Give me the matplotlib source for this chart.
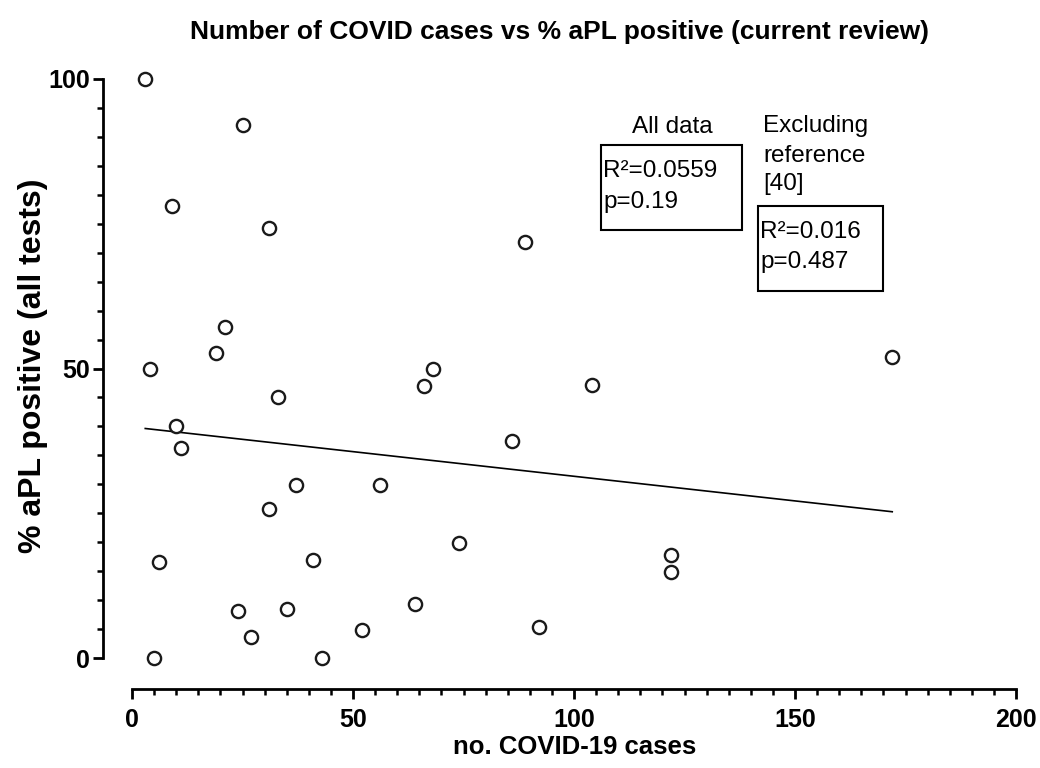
import matplotlib
matplotlib.use("Agg")
import matplotlib.pyplot as plt
import numpy as np
from matplotlib import font_manager
from matplotlib.patches import Rectangle
from matplotlib.ticker import MultipleLocator

plt.rcParams['font.family'] = ['Liberation Sans', 'DejaVu Sans']

# COVID-19 case counts and % aPL positive, one point per study
cases = [3, 25, 9, 31, 21, 19, 4, 33, 10, 11, 37, 31, 6, 41, 24, 35, 27, 5,
         43, 68, 66, 104, 86, 56, 74, 122, 122, 64, 52, 92, 172, 89]
apl_pct = [100, 92.1, 78.1, 74.2, 57.1, 52.6, 49.9, 45.0, 40.0, 36.3, 29.9,
           25.7, 16.6, 16.9, 8.1, 8.5, 3.6, 0, 0, 50.0, 46.9, 47.1, 37.5,
           29.9, 19.9, 17.8, 14.9, 9.3, 4.9, 5.4, 51.9, 71.9]

# condensed face for the headings if there is one
try:
    font_manager.findfont(font_manager.FontProperties(family='Liberation Sans Narrow'),
                          fallback_to_default=False)
    head_family, head_scale = ['Liberation Sans Narrow', 'Liberation Sans'], 1 / 0.82
except ValueError:
    head_family, head_scale = ['Liberation Sans'], 1.0

W, H = 1040, 768
fig = plt.figure(figsize=(W / 100, H / 100), dpi=100)
ax = fig.add_axes([132 / W, 1 - 658 / H, 884 / W, 579 / H])

x = np.array(cases, dtype=float)
y = np.array(apl_pct, dtype=float)
slope, intercept = np.polyfit(x, y, 1)
xfit = np.array([x.min(), x.max()])
ax.plot(xfit, slope * xfit + intercept, color='black', lw=1.2, clip_on=False)

ax.plot(x, y, 'o', ms=9.5, mfc='white', mec='#1a1a1a', mew=1.7,
        clip_on=False, zorder=3)

ax.set_xlim(0, 200)
ax.set_ylim(0, 100)
ax.xaxis.set_major_locator(MultipleLocator(50))
ax.xaxis.set_minor_locator(MultipleLocator(5))
ax.yaxis.set_major_locator(MultipleLocator(50))
ax.yaxis.set_minor_locator(MultipleLocator(5))

for side in ('top', 'right'):
    ax.spines[side].set_visible(False)
ax.spines['left'].set_position(('outward', 21))
ax.spines['bottom'].set_position(('outward', 22))
for side in ('left', 'bottom'):
    ax.spines[side].set_linewidth(2.0)

ax.tick_params(which='major', length=7, width=2.0, color='black')
ax.tick_params(which='minor', length=4.5, width=1.8, color='black')
ax.tick_params(axis='x', which='major', pad=7)
ax.tick_params(axis='y', which='major', pad=2.5)
for lab in ax.get_xticklabels() + ax.get_yticklabels():
    lab.set_fontsize(18)
    lab.set_fontweight('bold')

fig.text(560 / W, 1 - 32 / H,
         'Number of COVID cases vs % aPL positive (current review)',
         ha='center', va='center', fontsize=19 * head_scale,
         fontweight='bold', family=head_family)
fig.text(575 / W, 1 - 747 / H, 'no. COVID-19 cases',
         ha='center', va='center', fontsize=18.5 * head_scale,
         fontweight='bold', family=head_family)
fig.text(33 / W, 1 - 366 / H, '% aPL positive (all tests)',
         ha='center', va='center', rotation=90, fontsize=23 * head_scale,
         fontweight='bold', family=head_family)

# regression summary boxes
def fig_text(px, py, s, **kw):
    fig.text(px / W, 1 - py / H, s, fontsize=17.5, va='baseline', **kw)

def fig_box(x0, y0, x1, y1):
    fig.add_artist(Rectangle((x0 / W, 1 - y1 / H), (x1 - x0) / W,
                             (y1 - y0) / H, transform=fig.transFigure,
                             fill=False, lw=1.5, ec='black'))

fig_text(672, 133, 'All data', ha='center')
fig_box(601, 145, 742, 230)
fig_text(603, 177, 'R²=0.0559')
fig_text(603, 208, 'p=0.19')

fig_text(763, 132, 'Excluding')
fig_text(763, 162, 'reference')
fig_text(763, 190, '[40]')
fig_box(758, 206, 883, 291)
fig_text(760, 238, 'R²=0.016')
fig_text(760, 268, 'p=0.487')

fig.savefig('out.png', dpi=100)
